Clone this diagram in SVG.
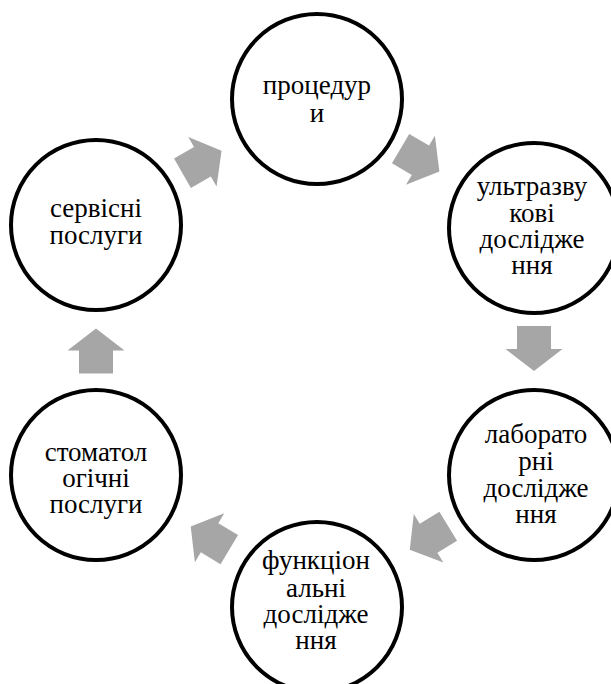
<svg xmlns="http://www.w3.org/2000/svg" width="611" height="684" viewBox="0 0 611 684">
<style>
.node{fill:#ffffff;stroke:#000000;stroke-width:4}
.lbl{font-family:'Liberation Serif','Times New Roman',serif;font-size:27px;fill:#000000;text-anchor:middle}
.arr{fill:#a6a6a6}
</style>
<defs>
<polygon id="ar" points="-22.5,-17 0.5,-17 0.5,-28.5 22.5,0 0.5,28.5 0.5,17 -22.5,17"/>
</defs>
<rect width="611" height="684" fill="#ffffff"/>
<g id="connectors" class="arr">
<use href="#ar" transform="translate(420,160) rotate(30.5)"/>
<use href="#ar" transform="translate(534,348.5) rotate(90)"/>
<use href="#ar" transform="translate(429,538) rotate(148.7)"/>
<use href="#ar" transform="translate(210,538) rotate(211)"/>
<use href="#ar" transform="translate(96,351) rotate(-90)"/>
<use href="#ar" transform="translate(202,162) rotate(-29.7)"/>
</g>
<g id="n1">
<circle class="node" cx="317" cy="99" r="85"/>
<text class="lbl" x="317" y="94">процедур</text>
<text class="lbl" x="317" y="122">и</text>
</g>
<g id="n2">
<circle class="node" cx="534" cy="228" r="85"/>
<text class="lbl" x="532" y="195">ультразву</text>
<text class="lbl" x="532" y="222">кові</text>
<text class="lbl" x="532" y="248">дослідже</text>
<text class="lbl" x="532" y="274">ння</text>
</g>
<g id="n3">
<circle class="node" cx="534" cy="475" r="85"/>
<text class="lbl" x="536" y="443">лаборато</text>
<text class="lbl" x="536" y="470">рні</text>
<text class="lbl" x="536" y="497">дослідже</text>
<text class="lbl" x="536" y="523">ння</text>
</g>
<g id="n4">
<circle class="node" cx="317" cy="607" r="85"/>
<text class="lbl" x="316" y="569">функціон</text>
<text class="lbl" x="316" y="597">альні</text>
<text class="lbl" x="316" y="623">дослідже</text>
<text class="lbl" x="316" y="649">ння</text>
</g>
<g id="n5">
<circle class="node" cx="96" cy="475" r="85"/>
<text class="lbl" x="96" y="461">стоматол</text>
<text class="lbl" x="96" y="487">огічні</text>
<text class="lbl" x="96" y="513">послуги</text>
</g>
<g id="n6">
<circle class="node" cx="96" cy="225" r="85"/>
<text class="lbl" x="96" y="217">сервісні</text>
<text class="lbl" x="96" y="244">послуги</text>
</g>
</svg>
